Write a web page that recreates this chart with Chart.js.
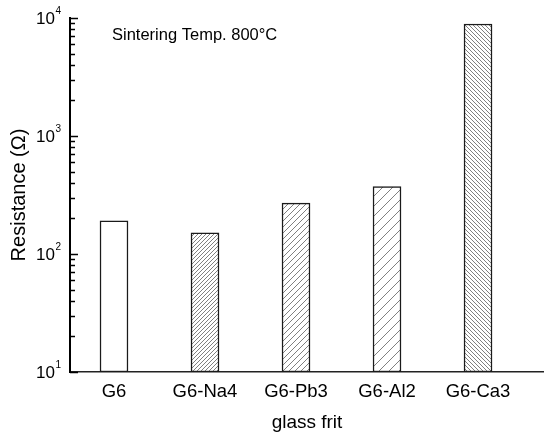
<!DOCTYPE html>
<html>
<head>
<meta charset="utf-8">
<script src="https://cdn.jsdelivr.net/npm/chart.js@4/dist/chart.umd.min.js"></script>
<style>
  html, body { margin: 0; padding: 0; background: #fff; }
  #wrap { width: 544px; height: 438px; position: relative; }
</style>
</head>
<body>
<div id="wrap"><canvas id="c"></canvas></div>
<script>
// ---- data ----
const categories = ['G6', 'G6-Na4', 'G6-Pb3', 'G6-Al2', 'G6-Ca3'];
const resistance = [191, 151, 270, 372, 8900];
const yTickDecades = [10, 100, 1000, 10000];
const annotationText = 'Sintering Temp. 800\u00B0C';

// ---- styles (hatch per bar) ----
const hatchStyles = [
  null,
  { dir: '/', gap: 4 },
  { dir: '/', gap: 6 },
  { dir: '/', gap: 10 },
  { dir: '\\', gap: 4 }
];

function makeHatch(style) {
  if (!style) return '#ffffff';
  const s = style.gap;
  const cv = document.createElement('canvas');
  cv.width = s; cv.height = s;
  const g = cv.getContext('2d');
  g.fillStyle = '#ffffff';
  g.fillRect(0, 0, s, s);
  g.strokeStyle = '#808080';
  g.lineWidth = 1;
  g.beginPath();
  if (style.dir === '/') {
    g.moveTo(-1, s + 1); g.lineTo(s + 1, -1);
    g.moveTo(-1, 1); g.lineTo(1, -1);
    g.moveTo(s - 1, s + 1); g.lineTo(s + 1, s - 1);
  } else {
    g.moveTo(-1, -1); g.lineTo(s + 1, s + 1);
    g.moveTo(s - 1, -1); g.lineTo(s + 1, 1);
    g.moveTo(-1, s - 1); g.lineTo(1, s + 1);
  }
  g.stroke();
  return g.createPattern(cv, 'repeat');
}

const FONT = "'Liberation Sans', Arial, sans-serif";

const overlay = {
  id: 'overlay',
  afterDraw(chart) {
    const ctx = chart.ctx;
    const y = chart.scales.y;
    const area = chart.chartArea;
    ctx.save();
    // inner ticks
    ctx.strokeStyle = '#000';
    ctx.lineWidth = 1.5;
    for (let d = 0; d < yTickDecades.length; d++) {
      const base = yTickDecades[d];
      const maxK = d === yTickDecades.length - 1 ? 1 : 9;
      for (let k = 1; k <= maxK; k++) {
        const v = base * k;
        const py = Math.round(y.getPixelForValue(v)) + 0.5;
        const len = k === 1 ? 8 : 5;
        ctx.beginPath();
        ctx.moveTo(area.left, py);
        ctx.lineTo(area.left + len, py);
        ctx.stroke();
      }
    }
    // tick labels with superscripts
    ctx.fillStyle = '#000';
    yTickDecades.forEach(v => {
      const py = y.getPixelForValue(v);
      const exp = String(Math.round(Math.log10(v)));
      ctx.font = '17px ' + FONT;
      ctx.textAlign = 'right';
      ctx.textBaseline = 'middle';
      ctx.fillText('10', 55, py + 1);
      ctx.font = '10px ' + FONT;
      ctx.textAlign = 'left';
      ctx.fillText(exp, 55.5, py - 7);
    });
    // annotation
    ctx.font = '16.5px ' + FONT;
    ctx.textAlign = 'left';
    ctx.textBaseline = 'middle';
    ctx.fillText(annotationText, 112, 35);
    ctx.restore();
  }
};

const ctx = document.getElementById('c').getContext('2d');
new Chart(ctx, {
  type: 'bar',
  data: {
    datasets: [{
      data: categories.map((c, i) => ({ x: i, y: resistance[i] })),
      backgroundColor: hatchStyles.map(makeHatch),
      borderColor: '#1a1a1a',
      borderWidth: 1.5,
      borderSkipped: false,
      barThickness: 28
    }]
  },
  options: {
    responsive: true,
    maintainAspectRatio: false,
    animation: false,
    devicePixelRatio: 1,
    layout: { padding: { top: 18, right: 0, left: 0, bottom: 0 } },
    plugins: { legend: { display: false }, tooltip: { enabled: false } },
    scales: {
      x: {
        type: 'linear',
        offset: false,
        min: -0.4835,
        max: 4.725,
        grid: { display: false, drawTicks: false, offset: false },
        border: { display: true, color: '#222', width: 1.5 },
        afterBuildTicks: s => { s.ticks = categories.map((c, i) => ({ value: i })); },
        afterFit: s => { s.height = 66; },
        ticks: {
          autoSkip: false,
          maxRotation: 0,
          padding: 9,
          color: '#000',
          font: { family: FONT, size: 18.5 },
          callback: v => categories[v]
        },
        title: {
          display: true,
          text: 'glass frit',
          color: '#000',
          font: { family: FONT, size: 19 },
          padding: { top: 0, bottom: 4 }
        }
      },
      y: {
        type: 'logarithmic',
        min: 10,
        max: 10000,
        grid: { display: false },
        border: { display: true, color: '#000', width: 2 },
        afterFit: s => { s.width = 70; },
        ticks: { display: false },
        title: {
          display: true,
          text: 'Resistance (\u03A9)',
          color: '#000',
          font: { family: FONT, size: 20 },
          padding: { top: 7, bottom: 0 }
        }
      }
    }
  },
  plugins: [overlay]
});
</script>
</body>
</html>
